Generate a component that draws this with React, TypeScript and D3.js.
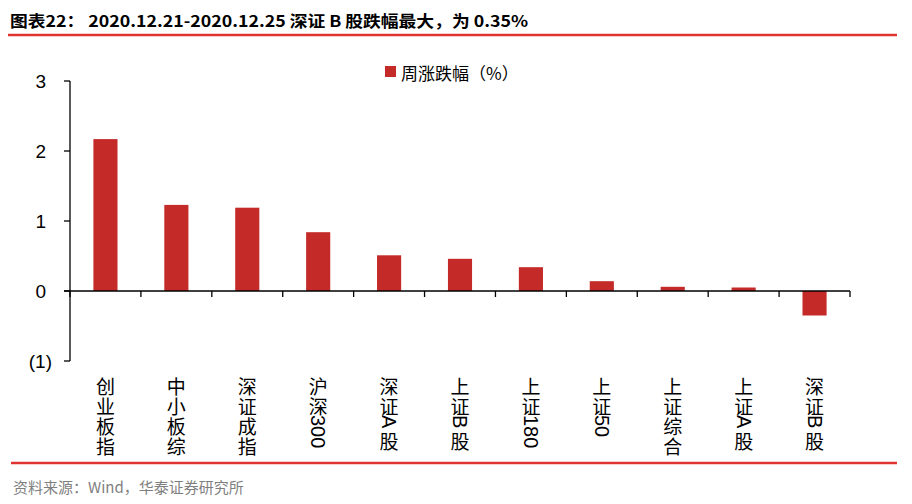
import React from "react";
import * as d3 from "d3";

const categories = ["创业板指", "中小板综", "深证成指", "沪深300", "深证A股", "上证B股", "上证180", "上证50", "上证综合", "上证A股", "深证B股"];
const values = [2.17, 1.23, 1.19, 0.84, 0.51, 0.46, 0.34, 0.14, 0.06, 0.05, -0.35];
const yTicks = [-1, 0, 1, 2, 3];
const seriesName = "周涨跌幅（%）";
const title = "图表22：  2020.12.21-2020.12.25 深证 B 股跌幅最大，为 0.35%";
const source = "资料来源：Wind，华泰证券研究所";

const W = 912;
const H = 504;
const RED = "#C32A28";
const LINE_RED = "#E03432";
const CJK = "'Noto Sans CJK SC', 'Liberation Sans', sans-serif";
const LATIN = "'Liberation Sans', Arial, 'Noto Sans CJK SC', sans-serif";

function splitRuns(s: string) {
  const runs: { text: string; latin: boolean }[] = [];
  for (const ch of s) {
    const latin = /[\x00-\x7F]/.test(ch);
    const last = runs[runs.length - 1];
    if (last && last.latin && latin) last.text += ch;
    else runs.push({ text: ch, latin });
  }
  return runs;
}

function latinWidth(s: string, fs: number) {
  let w = 0;
  for (const ch of s) {
    if (/[0-9]/.test(ch)) w += 0.556;
    else if (ch === "A" || ch === "B") w += 0.667;
    else w += 0.6;
  }
  return w * fs;
}

function VerticalLabel({ text, cx, top }: { text: string; cx: number; top: number }) {
  const fs = 19;
  const pitch = 20;
  const runs = splitRuns(text);
  let y = top;
  const els: React.ReactNode[] = [];
  runs.forEach((r, i) => {
    if (r.latin) {
      const w = latinWidth(r.text, 20);
      els.push(
        <text key={i} transform={`translate(${cx},${y}) rotate(90)`} fontFamily={LATIN} fontSize={20} dominantBaseline="central" textAnchor="start" fill="#000">
          {r.text}
        </text>
      );
      y += w + 2;
    } else {
      els.push(
        <text key={i} x={cx} y={y + pitch / 2} fontFamily={CJK} fontSize={fs} dominantBaseline="central" textAnchor="middle" fill="#000">
          {r.text}
        </text>
      );
      y += pitch;
    }
  });
  return <g>{els}</g>;
}

export default function App() {
  const x0 = 70;
  const x1 = 850;
  const y = d3.scaleLinear().domain([-1, 3]).range([361, 81]);
  const x = d3.scaleBand<string>().domain(categories).range([x0, x1]).paddingInner(0.66).paddingOuter(0.33);
  const bw = x.bandwidth();
  const step = (x1 - x0) / categories.length;
  const zeroY = y(0);

  return (
    <svg width={W} height={H} style={{ position: "absolute", left: 0, top: 0, background: "#fff" }}>
      <rect x={0} y={0} width={W} height={H} fill="#fff" />
      {/* title */}
      <text x={10} y={27} fontFamily="'Liberation Sans Narrow', 'Noto Sans CJK SC', sans-serif" fontWeight="bold" fontSize={16} fill="#000" textLength={518} lengthAdjust="spacingAndGlyphs">
        {title}
      </text>
      <line x1={8} x2={897} y1={35} y2={35} stroke={LINE_RED} strokeWidth={2.5} />

      {/* legend */}
      <rect x={385} y={66} width={11} height={11} fill={RED} />
      <text x={401} y={72} fontFamily={CJK} fontSize={17} dominantBaseline="central" fill="#000">
        {seriesName}
      </text>

      {/* bars */}
      {categories.map((c, i) => {
        const v = values[i];
        const top = Math.min(y(v), zeroY);
        const h = Math.abs(y(v) - zeroY);
        return <rect key={c} x={x(c)!} y={top} width={bw} height={h} fill={RED} />;
      })}

      {/* y axis */}
      <line x1={x0} x2={x0} y1={y(3)} y2={y(-1)} stroke="#000" strokeWidth={1.3} />
      {yTicks.map((t) => (
        <g key={t}>
          <line x1={x0 - 6} x2={x0} y1={y(t)} y2={y(t)} stroke="#000" strokeWidth={1.3} />
          <text x={t < 0 ? 52 : 46} y={y(t)} fontFamily={LATIN} fontSize={19} textAnchor="end" dominantBaseline="central" fill="#000">
            {t < 0 ? `(${Math.abs(t)})` : `${t}`}
          </text>
        </g>
      ))}

      {/* x axis */}
      <line x1={x0 - 6} x2={x1} y1={zeroY} y2={zeroY} stroke="#000" strokeWidth={1.3} />
      {d3.range(categories.length + 1).map((i) => (
        <line key={i} x1={x0 + i * step} x2={x0 + i * step} y1={zeroY} y2={zeroY + 6} stroke="#000" strokeWidth={1.3} />
      ))}

      {/* category labels */}
      {categories.map((c) => (
        <VerticalLabel key={c} text={c} cx={x(c)! + bw / 2} top={375} />
      ))}

      {/* footer */}
      <line x1={11} x2={897} y1={463} y2={463} stroke={LINE_RED} strokeWidth={2.5} />
      <text x={13} y={486} fontFamily={CJK} fontSize={15} dominantBaseline="central" fill="#7F7F7F">
        {source}
      </text>
    </svg>
  );
}
